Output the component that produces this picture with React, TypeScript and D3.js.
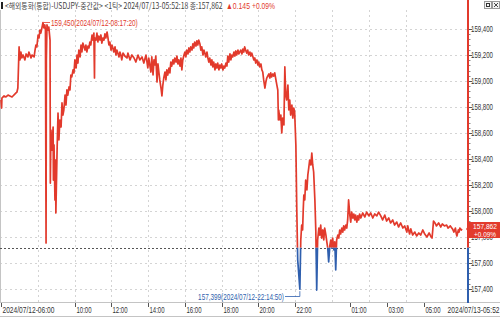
import React, { useLayoutEffect, useRef, useState } from 'react';
import * as d3 from 'd3';

const W = 500;
const H = 317;

// [minutes after 2024/07/12 06:00, price]
const usdjpy: [number, number][] = [
  [0,158.854],[2,158.792],[3,158.869],[10,158.885],[16,158.877],[23,158.892],[29,158.885],[36,158.877],[42,158.892],[49,158.908],[52,158.915],[55,158.946],
  [59,159.262],[62,159.162],[65,159.223],[68,159.177],[72,159.200],[78,159.162],[82,159.208],[88,159.185],[91,159.223],[98,159.177],[101,159.200],[108,159.185],
  [111,159.238],[114,159.277],[117,159.262],[121,159.354],[124,159.331],[127,159.392],[130,159.369],[134,159.415],[137,159.450],[140,159.408],[143,159.431],[145,159.392],
  [147,157.754],[148,159.162],[150,159.431],[153,159.392],[156,159.415],[160,159.315],[161,158.215],[163,158.623],[166,158.469],[170,158.646],[171,158.238],[173,158.508],
  [176,158.085],[178,158.392],[179,157.985],[183,158.469],[186,158.754],[189,158.546],[192,158.700],[196,158.646],[199,158.831],[202,158.738],[205,158.777],[209,158.892],
  [212,158.815],[215,158.931],[218,158.892],[222,158.954],[225,158.931],[228,159.046],[231,159.031],[235,159.085],[238,159.062],[241,159.162],[245,159.100],[248,159.200],
  [251,159.138],[254,159.238],[258,159.185],[261,159.277],[264,159.223],[267,159.292],[274,159.238],[277,159.277],[280,159.223],[284,159.269],[287,159.254],[290,159.300],
  [293,159.277],[297,159.354],[300,159.315],[303,159.369],[305,159.023],[306,159.331],[310,159.315],[313,159.369],[316,159.300],[319,159.346],[323,159.315],[326,159.354],
  [329,159.292],[333,159.331],[336,159.315],[339,159.362],[342,159.331],[346,159.377],[349,159.331],[352,159.277],[355,159.300],[359,159.238],[362,159.277],[365,159.254],
  [368,159.223],[372,159.262],[375,159.200],[378,159.238],[381,159.215],[385,159.185],[388,159.223],[391,159.200],[394,159.162],[398,159.215],[404,159.192],[411,159.177],
  [414,159.215],[421,159.162],[427,159.200],[434,159.177],[440,159.146],[447,159.200],[453,159.162],[460,159.185],[466,159.138],[473,159.200],[479,159.100],[482,159.177],
  [489,159.069],[492,159.185],[496,159.046],[499,159.162],[502,159.123],[505,159.192],[509,158.992],[512,159.131],[515,159.069],[518,159.008],[522,158.946],[525,158.885],
  [528,158.969],[531,159.023],[535,159.069],[538,159.008],[541,159.085],[544,159.046],[548,159.100],[551,159.062],[554,159.146],[557,159.115],[561,159.162],[564,159.131],
  [567,159.177],[571,159.146],[574,159.192],[577,159.131],[580,159.162],[584,159.115],[587,159.177],[590,159.085],[593,159.162],[597,159.200],[600,159.223],[603,159.185],
  [606,159.238],[610,159.208],[613,159.254],[616,159.223],[619,159.262],[623,159.238],[626,159.285],[629,159.254],[632,159.300],[636,159.269],[639,159.308],[642,159.277],
  [645,159.315],[649,159.285],[652,159.238],[655,159.262],[659,159.200],[662,159.238],[665,159.215],[668,159.185],[672,159.223],[675,159.177],[678,159.146],[681,159.177],
  [685,159.123],[688,159.162],[691,159.108],[694,159.146],[698,159.085],[701,159.131],[704,159.100],[707,159.138],[711,159.085],[714,159.123],[717,159.100],[720,159.131],
  [724,159.085],[727,159.115],[730,159.100],[734,159.138],[737,159.115],[740,159.192],[743,159.146],[747,159.208],[750,159.162],[753,159.200],[756,159.185],[760,159.223],
  [763,159.192],[766,159.231],[769,159.200],[773,159.238],[776,159.208],[779,159.223],[782,159.238],[786,159.208],[789,159.246],[792,159.223],[795,159.262],[799,159.231],
  [802,159.215],[805,159.238],[808,159.200],[812,159.223],[815,159.192],[818,159.215],[822,159.185],[825,159.162],[828,159.177],[831,159.138],[835,159.162],[838,159.123],
  [841,159.146],[844,159.108],[848,159.131],[851,159.085],[854,159.069],[857,159.008],[861,158.946],[864,158.992],[867,159.023],[870,159.038],[874,159.054],[877,159.023],
  [880,159.062],[883,159.031],[887,159.054],[890,159.038],[893,159.062],[897,159.008],[900,158.969],[903,158.931],[905,158.700],[906,158.777],[910,158.700],[913,158.738],
  [916,158.600],[919,158.715],[923,158.662],[926,159.108],[929,158.892],[932,158.854],[936,158.969],[939,158.777],[942,158.854],[945,158.738],[949,158.815],[952,158.715],
  [955,158.792],[958,158.762],[962,158.508],[965,158.008],[968,157.623],[975,157.399],[978,157.777],[981,157.892],[984,157.854],[986,158.008],[988,158.123],[991,158.085],
  [994,158.238],[998,158.162],[1001,158.277],[1004,158.331],[1007,158.392],[1011,158.354],[1014,158.446],[1017,158.354],[1020,158.300],[1024,158.085],[1027,157.854],[1030,157.392],
  [1033,157.777],[1037,157.869],[1040,157.815],[1043,157.892],[1046,157.792],[1050,157.854],[1053,157.777],[1056,157.869],[1060,157.815],[1063,157.762],[1066,157.715],[1069,157.608],
  [1073,157.738],[1076,157.777],[1079,157.715],[1082,157.792],[1086,157.700],[1089,157.762],[1092,157.546],[1095,157.777],[1099,157.815],[1102,157.792],[1105,157.854],[1108,157.823],
  [1112,157.869],[1115,157.838],[1118,157.885],[1121,157.854],[1125,157.892],[1128,157.869],[1131,157.931],[1134,158.085],[1138,157.969],[1141,157.915],[1144,157.992],[1148,157.946],
  [1151,157.977],[1154,157.931],[1157,157.969],[1161,157.915],[1164,157.962],[1167,157.931],[1170,157.977],[1174,157.946],[1180,157.985],[1187,157.954],[1193,157.992],[1200,157.962],
  [1206,157.985],[1213,157.946],[1219,157.977],[1226,157.962],[1232,157.992],[1239,157.962],[1245,157.931],[1252,157.969],[1258,157.923],[1265,157.946],[1271,157.908],[1278,157.931],
  [1284,157.892],[1291,157.915],[1297,157.877],[1304,157.908],[1311,157.869],[1317,157.885],[1324,157.838],[1327,157.885],[1333,157.823],[1337,157.862],[1343,157.815],[1350,157.838],
  [1356,157.808],[1363,157.831],[1369,157.815],[1376,157.854],[1381,157.823],[1384,157.800],[1387,157.831],[1389,157.808],[1391,157.792],[1392,157.854],[1393,157.923],[1395,157.908],
  [1397,157.885],[1400,157.908],[1403,157.877],[1405,157.900],[1408,157.885],[1411,157.892],[1413,157.869],[1416,157.885],[1419,157.862],[1421,157.838],[1423,157.869],[1424,157.831],
  [1425,157.808],[1427,157.854],[1428,157.838],[1429,157.869],[1431,157.854],[1432,157.862],
];

const prevClose = 157.717;
const lastPrice = 157.862;
const changeText = '▲0.145';
const changePctText = '+0.09%';
const titleText = '<해외통화(통합)-USDJPY-중간값> <1틱> 2024/07/13-05:52:18 종:157,862';

const yTicks = [157.4, 157.6, 157.8, 158.0, 158.2, 158.4, 158.6, 158.8, 159.0, 159.2, 159.4];
const xTickMinutes = [0, 240, 360, 480, 600, 720, 840, 960, 1140, 1260, 1380];
const xTickLabels = ['2024/07/12-06:00', '10:00', '12:00', '14:00', '16:00', '18:00', '20:00', '22:00', '01:00', '03:00', '05:00'];
const gridMinutes = [120, 240, 360, 480, 600, 720, 840, 960, 1080, 1200, 1320];
const endLabel = '2024/07/13-05:52';
const maxPoint: [number, number] = [137, 159.45];
const minPoint: [number, number] = [975, 157.399];
const maxLabel = '159,450(2024/07/12-08:17:20)';
const minLabel = '157,399(2024/07/12-22:14:50)';

const RED = '#e23a2c';
const BLUE = '#2f5fae';
const FONT = 'Arial, "Liberation Sans", sans-serif';

const fmt = (v: number) => v.toFixed(3).replace('.', ',');

type FitProps = {
  x: number; y: number; width: number; anchor?: 'start' | 'middle' | 'end';
  fontSize: number; fill: string; fontFamily?: string; children: React.ReactNode;
};

// Text squeezed horizontally to a target width (the source uses a very narrow bitmap font)
function FitText({ x, y, width, anchor = 'start', fontSize, fill, fontFamily, children }: FitProps) {
  const ref = useRef<SVGTextElement>(null);
  const [s, setS] = useState(1);
  useLayoutEffect(() => {
    if (ref.current) {
      const n = ref.current.getComputedTextLength();
      if (n > 0) setS(width / n);
    }
  }, [width, children]);
  return (
    <text ref={ref} transform={`translate(${x},${y}) scale(${s},1)`} x={0} y={0}
      textAnchor={anchor} fontSize={fontSize} fill={fill} fontFamily={fontFamily}>{children}</text>
  );
}

export default function App() {
  const left = 0, right = 468, top = 10, bottom = 302;
  const x = d3.scaleLinear().domain([0, 1380, 1432]).range([1, 424, 462]);
  const y = d3.scaleLinear().domain([157.4, 159.4]).range([289, 29]);
  const line = d3.line<[number, number]>().x(d => x(d[0])).y(d => y(d[1]));
  const path = line(usdjpy) || '';
  const yPrev = y(prevClose);
  const yLast = y(lastPrice);
  const minorTicks = d3.range(0, 51).map(i => 157.4 + i * 0.04).filter(v => y(v) >= top && y(v) <= bottom);

  return (
    <svg width={W} height={H} style={{ position: 'absolute', left: 0, top: 0, background: '#fff' }} fontFamily={FONT}>
      <defs>
        <clipPath id="above"><rect x={left} y={top} width={right - left} height={yPrev - top} /></clipPath>
        <clipPath id="below"><rect x={left} y={yPrev} width={right - left} height={bottom - yPrev} /></clipPath>
      </defs>
      <rect x={0} y={0} width={W} height={H} fill="#fff" />
      {/* grid */}
      {yTicks.map(t => (
        <line key={'hg' + t} x1={left} x2={right} y1={Math.round(y(t)) + 0.5} y2={Math.round(y(t)) + 0.5} stroke="#d4d4d4" strokeDasharray="2,3" />
      ))}
      {gridMinutes.map(m => (
        <line key={'vg' + m} x1={Math.round(x(m)) + 0.5} x2={Math.round(x(m)) + 0.5} y1={top} y2={bottom} stroke="#d4d4d4" strokeDasharray="2,3" />
      ))}
      {/* frame */}
      <line x1={0.5} x2={0.5} y1={top} y2={bottom} stroke="#c4c4c4" />
      <line x1={0} x2={W} y1={bottom + 0.5} y2={bottom + 0.5} stroke="#c4c4c4" />
      <line x1={0} x2={W} y1={316.5} y2={316.5} stroke="#c4c4c4" />
      {/* previous close */}
      <line x1={left} x2={right} y1={Math.round(yPrev) + 0.5} y2={Math.round(yPrev) + 0.5} stroke="#555" strokeDasharray="2,2" />
      {/* series */}
      <path d={path} fill="none" stroke={RED} strokeWidth={1.7} strokeLinejoin="round" clipPath="url(#above)" />
      <path d={path} fill="none" stroke={BLUE} strokeWidth={1.7} strokeLinejoin="round" clipPath="url(#below)" />
      {/* max annotation */}
      <line x1={x(maxPoint[0]) + 1} x2={50} y1={y(maxPoint[1])} y2={y(maxPoint[1])} stroke={RED} strokeWidth={0.8} />
      <FitText x={51} y={y(maxPoint[1]) + 3} width={87} fontSize={8.5} fill={RED}>{maxLabel}</FitText>
      {/* min annotation */}
      <polyline points={`${285},${296.5} ${x(minPoint[0])},${296.5} ${x(minPoint[0])},${y(minPoint[1]) + 2}`} fill="none" stroke={BLUE} strokeWidth={0.8} />
      <FitText x={284} y={299.5} width={86} anchor="end" fontSize={8.5} fill={BLUE}>{minLabel}</FitText>
      {/* right axis */}
      <line x1={right} x2={right} y1={0} y2={yPrev} stroke={RED} strokeWidth={2} />
      <line x1={right} x2={right} y1={yPrev} y2={bottom + 1} stroke={BLUE} strokeWidth={2} />
      {minorTicks.map((v, i) => (
        <line key={'mt' + i} x1={right + 1} x2={right + 2.5} y1={Math.round(y(v)) + 0.5} y2={Math.round(y(v)) + 0.5} stroke="#888" />
      ))}
      {yTicks.map(t => (
        <g key={'yt' + t}>
          <line x1={right + 1} x2={right + 4} y1={Math.round(y(t)) + 0.5} y2={Math.round(y(t)) + 0.5} stroke="#555" />
          <FitText x={471} y={y(t) + 3} width={22} fontSize={8.5} fill="#333">{fmt(t)}</FitText>
        </g>
      ))}
      {/* last price box (covers the upper part of the 157,800 label, as in the source) */}
      <path d={`M${right - 2},${yLast} L${right + 1},${yLast - 4} L${right + 1},${yLast - 7} L${W},${yLast - 7} L${W},${yLast + 9} L${right + 1},${yLast + 9} L${right + 1},${yLast + 4} Z`} fill={RED} />
      <FitText x={485} y={yLast + 0.5} width={24} anchor="middle" fontSize={7} fill="#fff">{fmt(lastPrice)}</FitText>
      <FitText x={485} y={yLast + 8} width={22} anchor="middle" fontSize={7} fill="#fff">{changePctText}</FitText>
      {/* x axis */}
      {xTickMinutes.map((m, i) => {
        const px = Math.round(x(m)) + 0.5;
        const lbl = xTickLabels[i];
        return (
          <g key={'xt' + m}>
            <line x1={px} x2={px} y1={bottom + 1} y2={bottom + 5} stroke="#555" />
            <FitText x={px + 1} y={313} width={lbl.length > 6 ? 52 : 15} fontSize={9} fill="#333">{lbl}</FitText>
          </g>
        );
      })}
      <FitText x={499.5} y={313} width={52} anchor="end" fontSize={9} fill="#333">{endLabel}</FitText>
      {/* title */}
      <rect x={1} y={2} width={2} height={7} fill="#222" />
      <FitText x={5} y={9} width={218} fontSize={8.5} fill="#444" fontFamily='"Noto Sans CJK KR", sans-serif'>{titleText}</FitText>
      <FitText x={226} y={9} width={24} fontSize={9} fill={RED}>{changeText}</FitText>
      <FitText x={252} y={9} width={23} fontSize={9} fill={RED}>{changePctText}</FitText>
      {/* window icons */}
      <rect x={484.5} y={1.5} width={7} height={7} fill="#f4f4f4" stroke="#999" />
      <rect x={486.5} y={3.5} width={3} height={3} fill="none" stroke="#333" />
      <rect x={492.5} y={1.5} width={7} height={7} fill="#f4f4f4" stroke="#999" />
      <path d="M494,3 L498,7 M498,3 L494,7" stroke="#333" strokeWidth={0.9} />
    </svg>
  );
}
